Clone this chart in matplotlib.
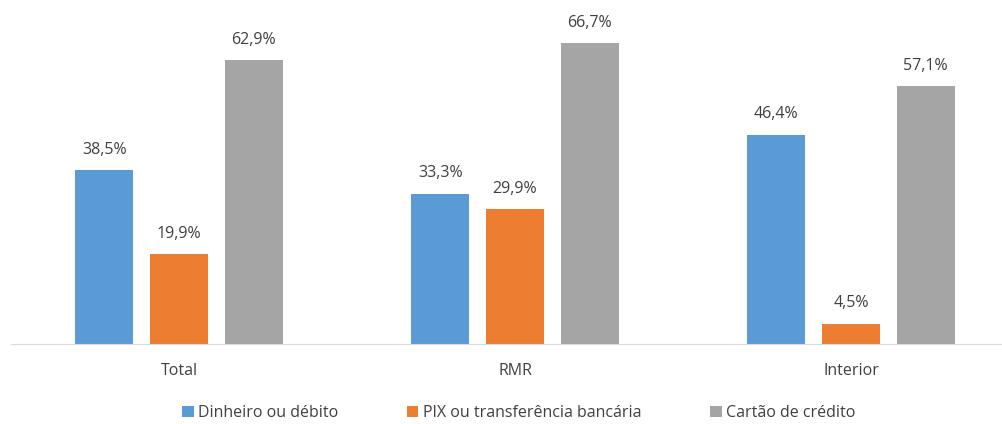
import matplotlib.pyplot as plt
import numpy as np

categories = ['Total', 'RMR', 'Interior']
series = ['Dinheiro ou débito', 'PIX ou transferência bancária', 'Cartão de crédito']
dinheiro = [38.5, 33.3, 46.4]
pix = [19.9, 29.9, 4.5]
cartao = [62.9, 66.7, 57.1]
colors = ['#5B9BD5', '#ED7D31', '#A5A5A5']

plt.rcParams['font.family'] = ['Open Sans', 'DejaVu Sans']
txt = '#404040'

fig = plt.figure(figsize=(10.02, 4.24), dpi=100)
ax = fig.add_axes([11/1002, 80/424, 1008/1002, 316/424])

x = np.arange(len(categories))
w = 0.173
step = 0.222
for i, (vals, name) in enumerate(zip([dinheiro, pix, cartao], series)):
    pos = x + (i - 1) * step
    bars = ax.bar(pos, vals, width=w, color=colors[i], label=name)
    for b, v in zip(bars, vals):
        ax.text(b.get_x() + b.get_width() / 2, v + 2.7, f'{v:.1f}'.replace('.', ',') + '%',
                ha='center', va='bottom', fontsize=11.5, color=txt)

ax.set_xlim(-0.5, 2.5)
ax.set_ylim(0, 70)
ax.set_yticks([])
ax.set_xticks(x)
ax.set_xticklabels(categories, fontsize=11.5, color=txt)
ax.tick_params(axis='x', length=0, pad=14)
for s in ['top', 'right', 'left']:
    ax.spines[s].set_visible(False)
ax.spines['bottom'].set_color('#D9D9D9')

fig.legend(loc='center', bbox_to_anchor=(0.518, 11/424), ncol=3, frameon=False,
           fontsize=11.5, handlelength=0.7, handleheight=0.7, handletextpad=0.3,
           columnspacing=4.3, labelcolor=txt)

fig.savefig('out.png', dpi=100)
